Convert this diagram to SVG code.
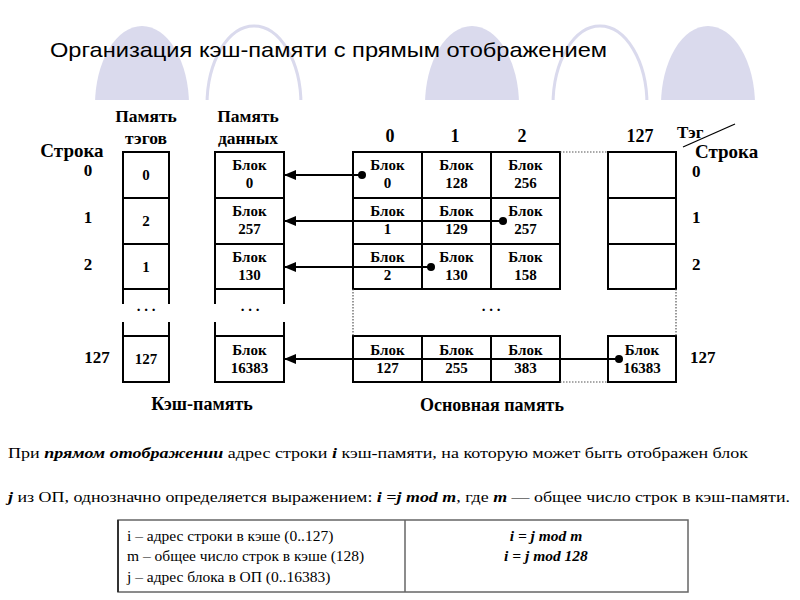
<svg xmlns="http://www.w3.org/2000/svg" width="800" height="600" viewBox="0 0 800 600">
<defs>
<marker id="ah" markerWidth="12" markerHeight="10" refX="12" refY="5" orient="auto" markerUnits="userSpaceOnUse">
<path d="M0,0 L12,5 L0,10 Z" fill="#000"/>
</marker>
</defs>
<rect width="800" height="600" fill="#fff"/>
<g id="background">
<ellipse fill="#dadaed" cx="142" cy="105" rx="47" ry="79"/>
<ellipse fill="none" stroke="#dadaed" stroke-width="3" cx="254" cy="105" rx="47" ry="79"/>
<ellipse fill="#dadaed" cx="472" cy="105" rx="47" ry="79"/>
<ellipse fill="none" stroke="#dadaed" stroke-width="3" cx="600" cy="105" rx="47" ry="79"/>
<ellipse fill="#dadaed" cx="708" cy="105" rx="47" ry="79"/>
<rect x="0" y="100" width="800" height="500" fill="#fff"/>
</g>
<text id="title" x="50" y="57" style="font-family:'Liberation Sans',Arial,sans-serif" font-size="21" textLength="557" lengthAdjust="spacingAndGlyphs" fill="#000">Организация кэш-памяти с прямым отображением</text>

<g id="labels" font-weight="bold" fill="#000">
<text style="font-family:'Liberation Serif',serif" font-size="17.5" x="146" y="122" text-anchor="middle">Память</text>
<text style="font-family:'Liberation Serif',serif" font-size="17.5" x="146" y="144" text-anchor="middle">тэгов</text>
<text style="font-family:'Liberation Serif',serif" font-size="17.5" x="248" y="122" text-anchor="middle">Память</text>
<text style="font-family:'Liberation Serif',serif" font-size="17.5" x="248" y="144" text-anchor="middle">данных</text>
<text style="font-family:'Liberation Serif',serif" x="72" y="157" font-size="19" text-anchor="middle">Строка</text>
<text style="font-family:'Liberation Serif',serif" x="88" y="176" font-size="17" text-anchor="middle">0</text>
<text style="font-family:'Liberation Serif',serif" x="88" y="223" font-size="17" text-anchor="middle">1</text>
<text style="font-family:'Liberation Serif',serif" x="88" y="270" font-size="17" text-anchor="middle">2</text>
<text style="font-family:'Liberation Serif',serif" x="97" y="363" font-size="17" text-anchor="middle">127</text>
<text style="font-family:'Liberation Serif',serif" x="390" y="142" font-size="18" text-anchor="middle">0</text>
<text style="font-family:'Liberation Serif',serif" x="455" y="142" font-size="18" text-anchor="middle">1</text>
<text style="font-family:'Liberation Serif',serif" x="522" y="142" font-size="18" text-anchor="middle">2</text>
<text style="font-family:'Liberation Serif',serif" x="640" y="142" font-size="18" text-anchor="middle">127</text>
<text style="font-family:'Liberation Serif',serif" x="677" y="138" font-size="17">Тэг</text>
<text style="font-family:'Liberation Serif',serif" x="695" y="158" font-size="19">Строка</text>
<text style="font-family:'Liberation Serif',serif" x="692" y="177" font-size="17">0</text>
<text style="font-family:'Liberation Serif',serif" x="692" y="223" font-size="17">1</text>
<text style="font-family:'Liberation Serif',serif" x="692" y="270" font-size="17">2</text>
<text style="font-family:'Liberation Serif',serif" x="690" y="363" font-size="17">127</text>
<text style="font-family:'Liberation Serif',serif" x="202" y="410" font-size="18" text-anchor="middle">Кэш-память</text>
<text style="font-family:'Liberation Serif',serif" x="492" y="411" font-size="18" text-anchor="middle">Основная память</text>
<text style="font-family:'Liberation Serif',serif" x="146" y="311" font-size="15" text-anchor="middle">. . .</text>
<text style="font-family:'Liberation Serif',serif" x="250" y="311" font-size="15" text-anchor="middle">. . .</text>
<text style="font-family:'Liberation Serif',serif" x="491" y="311" font-size="15" text-anchor="middle">. . .</text>
</g>
<line x1="683" y1="147" x2="735" y2="124" stroke="#000" stroke-width="1.3"/>

<g id="tag-memory" font-weight="bold" font-size="15" text-anchor="middle" fill="#000">
<path fill="none" stroke="#000" stroke-width="2" d="M123,304 V152 H169 V304 M123,198 H169 M123,244 H169 M123,289 H169 M123,322 V382 H169 V322 M123,336 H169"/>
<text style="font-family:'Liberation Serif',serif" x="146" y="180">0</text>
<text style="font-family:'Liberation Serif',serif" x="146" y="226">2</text>
<text style="font-family:'Liberation Serif',serif" x="146" y="272">1</text>
<text style="font-family:'Liberation Serif',serif" x="146" y="364">127</text>
</g>

<g id="data-memory" font-weight="bold" font-size="15" text-anchor="middle" fill="#000">
<path fill="none" stroke="#000" stroke-width="2" d="M215,304 V152 H284 V304 M215,198 H284 M215,244 H284 M215,289 H284 M215,322 V382 H284 V322 M215,336 H284"/>
<text style="font-family:'Liberation Serif',serif" x="249.5" y="170">Блок</text><text style="font-family:'Liberation Serif',serif" x="249.5" y="188">0</text>
<text style="font-family:'Liberation Serif',serif" x="249.5" y="216">Блок</text><text style="font-family:'Liberation Serif',serif" x="249.5" y="234">257</text>
<text style="font-family:'Liberation Serif',serif" x="249.5" y="262">Блок</text><text style="font-family:'Liberation Serif',serif" x="249.5" y="280">130</text>
<text style="font-family:'Liberation Serif',serif" x="249.5" y="355">Блок</text><text style="font-family:'Liberation Serif',serif" x="249.5" y="373">16383</text>
</g>

<g id="main-memory" font-weight="bold" font-size="15" text-anchor="middle" fill="#000">
<path fill="none" stroke="#000" stroke-width="2" d="M353,152 H560 V289 H353 Z M353,198 H560 M353,244 H560 M422,152 V289 M491,152 V289"/>
<path fill="none" stroke="#000" stroke-width="2" d="M353,336 H560 V382 H353 Z M422,336 V382 M491,336 V382"/>
<path fill="none" stroke="#000" stroke-width="2" d="M608,152 H676 V289 H608 Z M608,198 H676 M608,244 H676"/>
<path fill="none" stroke="#000" stroke-width="2" d="M608,336 H676 V382 H608 Z"/>
<path fill="none" stroke="#555" stroke-width="1.2" stroke-dasharray="1.5 1.5" d="M560,152 H608 M560,382 H608 M353,289 V336 M676,289 V336"/>
<text style="font-family:'Liberation Serif',serif" x="387.5" y="170">Блок</text><text style="font-family:'Liberation Serif',serif" x="387.5" y="188">0</text>
<text style="font-family:'Liberation Serif',serif" x="456.5" y="170">Блок</text><text style="font-family:'Liberation Serif',serif" x="456.5" y="188">128</text>
<text style="font-family:'Liberation Serif',serif" x="525.5" y="170">Блок</text><text style="font-family:'Liberation Serif',serif" x="525.5" y="188">256</text>
<text style="font-family:'Liberation Serif',serif" x="387.5" y="216">Блок</text><text style="font-family:'Liberation Serif',serif" x="387.5" y="234">1</text>
<text style="font-family:'Liberation Serif',serif" x="456.5" y="216">Блок</text><text style="font-family:'Liberation Serif',serif" x="456.5" y="234">129</text>
<text style="font-family:'Liberation Serif',serif" x="525.5" y="216">Блок</text><text style="font-family:'Liberation Serif',serif" x="525.5" y="234">257</text>
<text style="font-family:'Liberation Serif',serif" x="387.5" y="262">Блок</text><text style="font-family:'Liberation Serif',serif" x="387.5" y="280">2</text>
<text style="font-family:'Liberation Serif',serif" x="456.5" y="262">Блок</text><text style="font-family:'Liberation Serif',serif" x="456.5" y="280">130</text>
<text style="font-family:'Liberation Serif',serif" x="525.5" y="262">Блок</text><text style="font-family:'Liberation Serif',serif" x="525.5" y="280">158</text>
<text style="font-family:'Liberation Serif',serif" x="387.5" y="355">Блок</text><text style="font-family:'Liberation Serif',serif" x="387.5" y="373">127</text>
<text style="font-family:'Liberation Serif',serif" x="456.5" y="355">Блок</text><text style="font-family:'Liberation Serif',serif" x="456.5" y="373">255</text>
<text style="font-family:'Liberation Serif',serif" x="525.5" y="355">Блок</text><text style="font-family:'Liberation Serif',serif" x="525.5" y="373">383</text>
<text style="font-family:'Liberation Serif',serif" x="642" y="355">Блок</text><text style="font-family:'Liberation Serif',serif" x="642" y="373">16383</text>
</g>

<g id="connectors" stroke="#000" stroke-width="2" fill="none">
<line x1="362" y1="175" x2="284" y2="175" marker-end="url(#ah)"/>
<line x1="503" y1="221" x2="284" y2="221" marker-end="url(#ah)"/>
<line x1="431" y1="267" x2="284" y2="267" marker-end="url(#ah)"/>
<line x1="619" y1="359" x2="284" y2="359" marker-end="url(#ah)"/>
<circle cx="362" cy="175" r="4" fill="#000" stroke="none"/>
<circle cx="503" cy="221" r="4" fill="#000" stroke="none"/>
<circle cx="431" cy="267" r="4" fill="#000" stroke="none"/>
<circle cx="619" cy="359" r="4" fill="#000" stroke="none"/>
</g>

<g id="paragraph" font-size="15.5" fill="#000">
<text style="font-family:'Liberation Serif',serif" x="8" y="458" textLength="740" lengthAdjust="spacingAndGlyphs">При <tspan font-weight="bold" font-style="italic">прямом отображении</tspan> адрес строки  <tspan font-weight="bold" font-style="italic">i</tspan>  кэш-памяти, на которую может быть отображен блок</text>
<text style="font-family:'Liberation Serif',serif" x="8" y="502" textLength="782" lengthAdjust="spacingAndGlyphs"><tspan font-weight="bold" font-style="italic">j</tspan> из ОП, однозначно  определяется выражением: <tspan font-weight="bold" font-style="italic">i =j mod m</tspan>, где <tspan font-weight="bold" font-style="italic">m</tspan> — общее число строк в кэш-памяти.</text>
</g>

<g id="table" font-size="15.5" fill="#000">
<rect x="118" y="520" width="570" height="72" fill="none" stroke="#666" stroke-width="1.5"/>
<line x1="118" y1="520" x2="118" y2="592" stroke="#333" stroke-width="2"/>
<line x1="405" y1="520" x2="405" y2="592" stroke="#666" stroke-width="1.5"/>
<text style="font-family:'Liberation Serif',serif" x="127" y="541">i – адрес строки в кэше (0..127)</text>
<text style="font-family:'Liberation Serif',serif" x="127" y="561">m – общее число строк в кэше (128)</text>
<text style="font-family:'Liberation Serif',serif" x="127" y="582">j – адрес блока в ОП (0..16383)</text>
<text style="font-family:'Liberation Serif',serif" font-weight="bold" font-style="italic" x="546" y="541" text-anchor="middle">i = j mod m</text>
<text style="font-family:'Liberation Serif',serif" font-weight="bold" font-style="italic" x="546" y="561" text-anchor="middle">i = j mod 128</text>
</g>
</svg>
